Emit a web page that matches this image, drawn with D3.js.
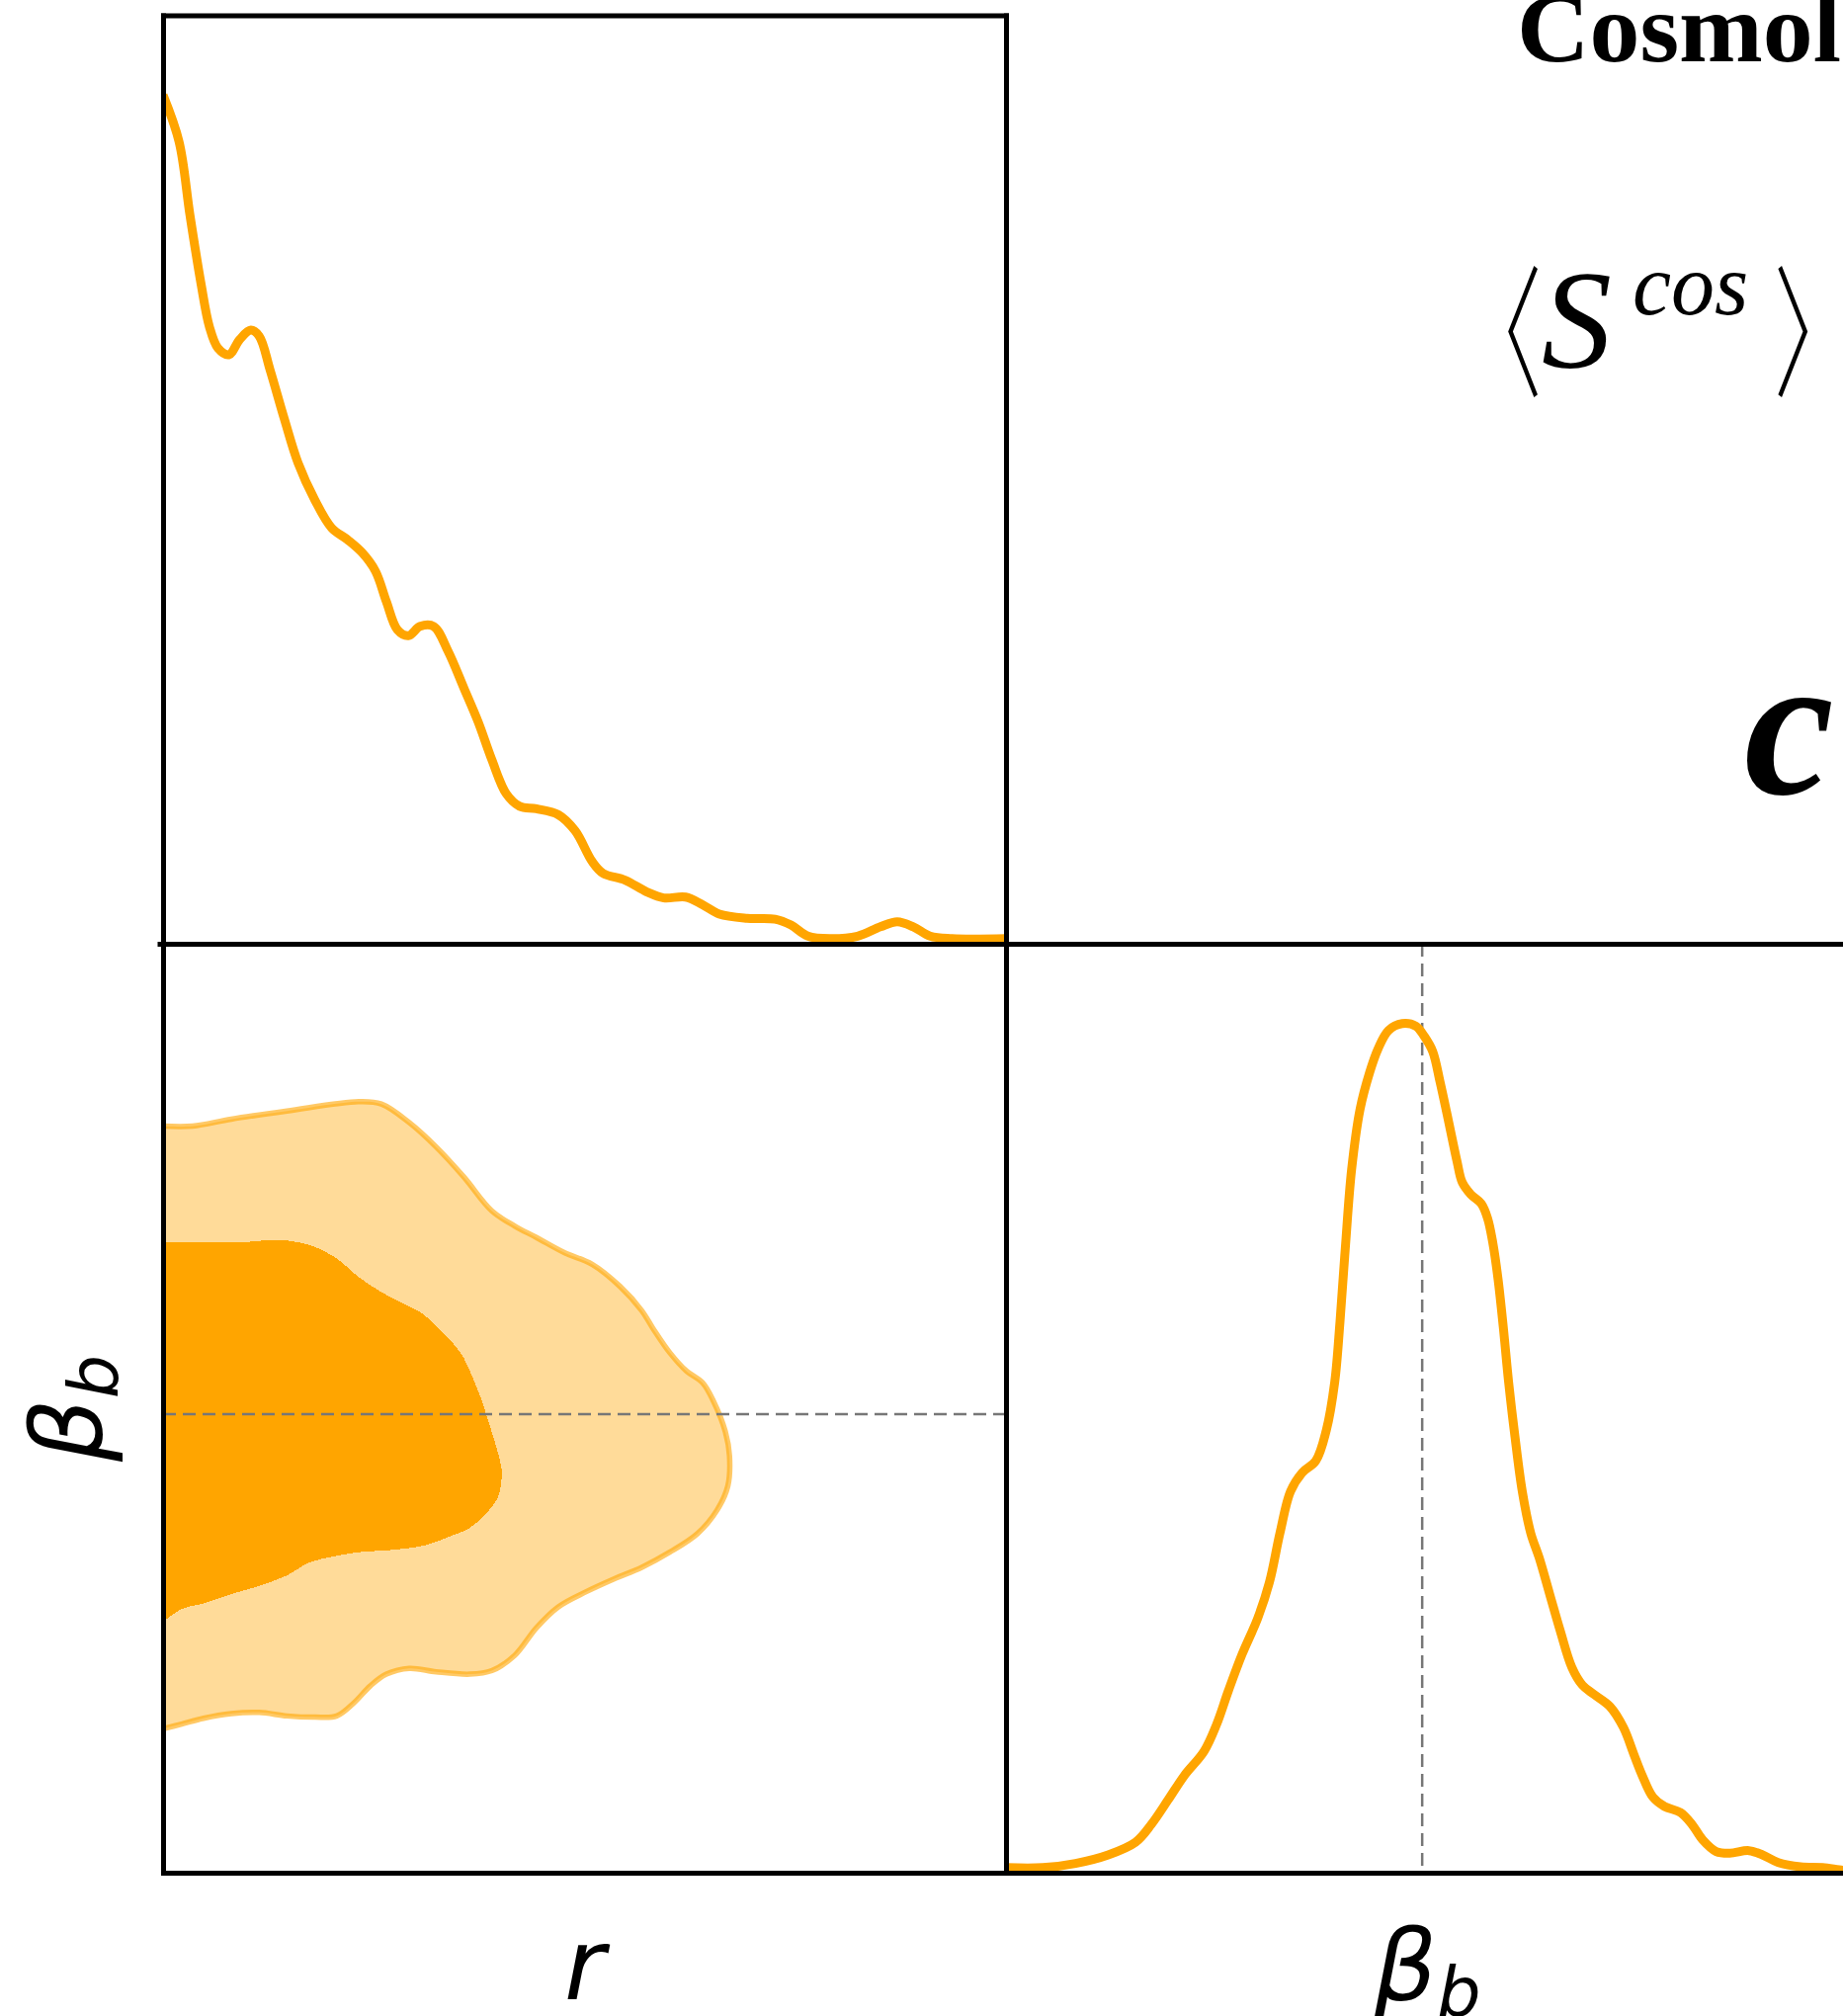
<!DOCTYPE html>
<html><head><meta charset="utf-8">
<script src="https://cdn.jsdelivr.net/npm/d3@7"></script>
<style>html,body{margin:0;padding:0;background:#fff;} svg{display:block;}</style>
</head><body>
<svg id="chart" width="1865" height="2040"></svg>
<script>
// ---------- data ----------
const rDomain = [0, 1];
const betaDomain = [-3.395, -2.595];
const densityDomain = [0, 1.094];
const fiducialBeta = -3.0;

// 1D marginal of r (top-left panel)
const rValues = [0, 0.019, 0.032, 0.045, 0.055, 0.065, 0.078, 0.091, 0.104, 0.114, 0.127, 0.144, 0.160, 0.180, 0.200, 0.219, 0.236, 0.252, 0.265, 0.278, 0.291, 0.305, 0.321, 0.338, 0.357, 0.374, 0.390, 0.407, 0.423, 0.443, 0.469, 0.489, 0.509, 0.522, 0.548, 0.574, 0.594, 0.620, 0.640, 0.660, 0.693, 0.726, 0.745, 0.765, 0.791, 0.824, 0.851, 0.871, 0.890, 0.910, 0.936, 1.0];
const rDensity = [1.0, 0.945, 0.858, 0.778, 0.727, 0.702, 0.694, 0.712, 0.723, 0.716, 0.676, 0.618, 0.567, 0.523, 0.490, 0.476, 0.461, 0.439, 0.403, 0.370, 0.363, 0.374, 0.374, 0.345, 0.301, 0.261, 0.217, 0.177, 0.162, 0.159, 0.152, 0.133, 0.097, 0.083, 0.075, 0.061, 0.054, 0.055, 0.046, 0.035, 0.030, 0.029, 0.022, 0.009, 0.006, 0.009, 0.020, 0.026, 0.020, 0.009, 0.006, 0.006];

// 1D marginal of beta_b (bottom-right panel)
const betaValues = [-3.395, -3.360, -3.329, -3.298, -3.272, -3.257, -3.241, -3.226, -3.207, -3.195, -3.184, -3.171, -3.156, -3.145, -3.135, -3.125, -3.114, -3.101, -3.091, -3.083, -3.078, -3.073, -3.067, -3.059, -3.050, -3.042, -3.032, -3.019, -3.006, -2.998, -2.990, -2.983, -2.975, -2.967, -2.962, -2.954, -2.944, -2.938, -2.933, -2.928, -2.923, -2.918, -2.912, -2.905, -2.897, -2.889, -2.879, -2.869, -2.858, -2.848, -2.837, -2.822, -2.809, -2.799, -2.791, -2.781, -2.770, -2.755, -2.744, -2.734, -2.721, -2.708, -2.690, -2.677, -2.662, -2.641, -2.620, -2.601, -2.595];
const betaDensity = [0.006, 0.006, 0.011, 0.021, 0.036, 0.057, 0.086, 0.114, 0.143, 0.175, 0.214, 0.257, 0.300, 0.342, 0.400, 0.449, 0.471, 0.485, 0.521, 0.578, 0.649, 0.735, 0.828, 0.899, 0.942, 0.970, 0.992, 1.000, 0.997, 0.985, 0.967, 0.931, 0.885, 0.838, 0.813, 0.799, 0.788, 0.771, 0.742, 0.699, 0.642, 0.578, 0.514, 0.449, 0.400, 0.371, 0.328, 0.285, 0.242, 0.221, 0.210, 0.196, 0.171, 0.139, 0.114, 0.089, 0.078, 0.071, 0.057, 0.039, 0.025, 0.023, 0.026, 0.021, 0.012, 0.007, 0.006, 0.003, 0.003];

// 2D contours (r, beta_b): 95% (outer) and 68% (inner)
const outerR = [0, 0.035, 0.081, 0.147, 0.232, 0.259, 0.292, 0.324, 0.357, 0.390, 0.417, 0.443, 0.476, 0.509, 0.542, 0.568, 0.581, 0.601, 0.621, 0.640, 0.653, 0.667, 0.672, 0.670, 0.657, 0.634, 0.601, 0.568, 0.535, 0.502, 0.469, 0.443, 0.417, 0.390, 0.364, 0.324, 0.292, 0.265, 0.246, 0.226, 0.206, 0.180, 0.147, 0.114, 0.081, 0.048, 0.022, 0];
const outerBeta = [-2.752, -2.752, -2.746, -2.739, -2.731, -2.733, -2.749, -2.770, -2.796, -2.825, -2.838, -2.848, -2.861, -2.871, -2.890, -2.911, -2.926, -2.947, -2.963, -2.973, -2.989, -3.015, -3.036, -3.062, -3.083, -3.103, -3.119, -3.132, -3.142, -3.153, -3.166, -3.184, -3.208, -3.221, -3.224, -3.222, -3.219, -3.224, -3.234, -3.249, -3.260, -3.261, -3.260, -3.257, -3.258, -3.262, -3.267, -3.271];
const innerR = [0, 0.048, 0.094, 0.134, 0.160, 0.180, 0.206, 0.232, 0.259, 0.285, 0.305, 0.324, 0.344, 0.357, 0.367, 0.377, 0.385, 0.394, 0.400, 0.402, 0.397, 0.384, 0.364, 0.338, 0.311, 0.272, 0.232, 0.200, 0.173, 0.147, 0.114, 0.081, 0.048, 0.022, 0];
const innerBeta = [-2.852, -2.852, -2.852, -2.850, -2.852, -2.856, -2.866, -2.882, -2.895, -2.905, -2.912, -2.924, -2.939, -2.952, -2.968, -2.986, -3.004, -3.025, -3.041, -3.051, -3.072, -3.085, -3.098, -3.106, -3.113, -3.117, -3.119, -3.123, -3.128, -3.139, -3.148, -3.155, -3.163, -3.168, -3.179];

// texts
const titleText = "Cosmol";
const statBracketL = "\u3008", statBracketR = "\u3009";
const statSymbol = "S", statSup = "cos";
const sideSymbol = "c";
const labelR = "r";
const labelBeta = "\u03B2", labelBetaSub = "b";

// ---------- layout ----------
const L = 165, M = 1018, R = 1871, T = 15.5, MID = 955, B = 1895;
const ORANGE = "#ffa500";

const svg = d3.select("#chart");
const xR = d3.scaleLinear().domain(rDomain).range([L, M]);
const xB = d3.scaleLinear().domain(betaDomain).range([M, R]);
const yB = d3.scaleLinear().domain(betaDomain).range([B, MID]);
const yTop = d3.scaleLinear().domain(densityDomain).range([MID, T]);
const yBot = d3.scaleLinear().domain(densityDomain).range([B, MID]);

const defs = svg.append("defs");
function clip(id, x, y, w, h) {
  defs.append("clipPath").attr("id", id).append("rect")
    .attr("x", x).attr("y", y).attr("width", w).attr("height", h);
}
clip("cTop", L, T, M - L, MID - T);
clip("c2d", L, MID, M - L, B - MID);
clip("cRight", M, MID, R - M, B - MID);

// ---------- 2D panel ----------
const g2 = svg.append("g").attr("clip-path", "url(#c2d)");
const outerPts = outerR.map((r, i) => [r, outerBeta[i]]);
const innerPts = innerR.map((r, i) => [r, innerBeta[i]]);
const cLine = d3.line().x(d => xR(d[0])).y(d => yB(d[1])).curve(d3.curveCatmullRom.alpha(0.5));

g2.append("path").attr("d", cLine(outerPts) + "Z")
  .attr("fill", ORANGE).attr("fill-opacity", 0.4).attr("stroke", "none");
g2.append("path").attr("d", cLine(outerPts))
  .attr("fill", "none").attr("stroke", ORANGE).attr("stroke-opacity", 0.6).attr("stroke-width", 5.5);
g2.append("path").attr("d", cLine(innerPts) + "Z")
  .attr("fill", ORANGE).attr("stroke", "none").attr("shape-rendering", "crispEdges");

g2.append("line")
  .attr("x1", xR(rDomain[0])).attr("x2", xR(rDomain[1]))
  .attr("y1", yB(fiducialBeta)).attr("y2", yB(fiducialBeta))
  .attr("stroke", "#777").attr("stroke-width", 2.5).attr("stroke-dasharray", "13,7");

// ---------- top-left 1D (r) ----------
const gT = svg.append("g").attr("clip-path", "url(#cTop)");
gT.append("path")
  .datum(rValues.map((r, i) => [r, rDensity[i]]))
  .attr("d", d3.line().x(d => xR(d[0])).y(d => yTop(d[1])).curve(d3.curveCatmullRom.alpha(0.5)))
  .attr("fill", "none").attr("stroke", ORANGE).attr("stroke-width", 9).attr("stroke-linejoin", "round");

// ---------- bottom-right 1D (beta_b) ----------
const gR = svg.append("g").attr("clip-path", "url(#cRight)");
gR.append("line")
  .attr("x1", xB(fiducialBeta)).attr("x2", xB(fiducialBeta))
  .attr("y1", MID).attr("y2", B)
  .attr("stroke", "#777").attr("stroke-width", 2.5).attr("stroke-dasharray", "13,7");
gR.append("path")
  .datum(betaValues.map((b, i) => [b, betaDensity[i]]))
  .attr("d", d3.line().x(d => xB(d[0])).y(d => yBot(d[1])).curve(d3.curveCatmullRom.alpha(0.5)))
  .attr("fill", "none").attr("stroke", ORANGE).attr("stroke-width", 9).attr("stroke-linejoin", "round");

// ---------- frames (axes without ticks) ----------
function styleAxis(sel) {
  sel.select(".domain").attr("stroke", "#000").attr("stroke-width", 5);
  sel.selectAll(".tick").remove();
}
const unit = [0, 1];
svg.append("g").attr("transform", `translate(0,${T})`)
  .call(d3.axisTop(d3.scaleLinear().domain(unit).range([L - 2.5, M + 2.5])).tickValues([]).tickSizeOuter(0)).call(styleAxis);
svg.append("g").attr("transform", `translate(0,${MID})`)
  .call(d3.axisBottom(d3.scaleLinear().domain(unit).range([L - 6, 1865])).tickValues([]).tickSizeOuter(0)).call(styleAxis);
svg.append("g").attr("transform", `translate(0,${B})`)
  .call(d3.axisBottom(d3.scaleLinear().domain(unit).range([L - 2.5, 1865])).tickValues([]).tickSizeOuter(0)).call(styleAxis);
svg.append("g").attr("transform", `translate(${L},0)`)
  .call(d3.axisLeft(d3.scaleLinear().domain(unit).range([B + 2.5, T - 2.5])).tickValues([]).tickSizeOuter(0)).call(styleAxis);
svg.append("g").attr("transform", `translate(${M},0)`)
  .call(d3.axisLeft(d3.scaleLinear().domain(unit).range([B + 2.5, T - 2.5])).tickValues([]).tickSizeOuter(0)).call(styleAxis);

// ---------- texts ----------
svg.append("text").attr("x", 1535).attr("y", 62)
  .attr("font-family", "Liberation Serif, Times New Roman, serif").attr("font-weight", "bold")
  .attr("font-size", 100).attr("textLength", 328).attr("lengthAdjust", "spacingAndGlyphs")
  .text(titleText);

// <S^cos> : thin angle brackets, italic S with superscript
const bracketFont = "Noto Sans CJK JP, sans-serif";
svg.append("text").attr("transform", "translate(1474,391) scale(0.6,1)")
  .attr("font-family", bracketFont).attr("font-weight", 300).attr("font-size", 144)
  .text(statBracketL);
const st = svg.append("text").attr("font-family", "Liberation Serif, serif").attr("font-style", "italic");
st.append("tspan").attr("x", 1560).attr("y", 372).attr("font-size", 142).text(statSymbol);
st.append("tspan").attr("x", 1652).attr("y", 318).attr("font-size", 88).text(statSup);
svg.append("text").attr("transform", "translate(1795,391) scale(0.6,1)")
  .attr("font-family", bracketFont).attr("font-weight", 300).attr("font-size", 144)
  .text(statBracketR);

svg.append("text").attr("x", 1765).attr("y", 803)
  .attr("font-family", "Liberation Serif, serif").attr("font-style", "italic").attr("font-weight", "bold")
  .attr("font-size", 205)
  .text(sideSymbol);

// axis labels
const labFont = "DejaVu Sans, sans-serif";
svg.append("text").attr("x", (L + M) / 2).attr("y", 2023)
  .attr("text-anchor", "middle").attr("font-family", labFont).attr("font-style", "italic").attr("font-size", 100)
  .text(labelR);

const bl = svg.append("text").attr("x", (M + R) / 2).attr("y", 2024)
  .attr("text-anchor", "middle").attr("font-family", labFont).attr("font-style", "italic").attr("font-size", 100);
bl.append("tspan").text(labelBeta);
bl.append("tspan").attr("font-size", 70).attr("dy", 16).text(labelBetaSub);

const ll = svg.append("text").attr("transform", `translate(103,${(MID + B) / 2}) rotate(-90)`)
  .attr("text-anchor", "middle").attr("font-family", labFont).attr("font-style", "italic").attr("font-size", 100);
ll.append("tspan").text(labelBeta);
ll.append("tspan").attr("font-size", 70).attr("dy", 16).text(labelBetaSub);
</script>
</body></html>
